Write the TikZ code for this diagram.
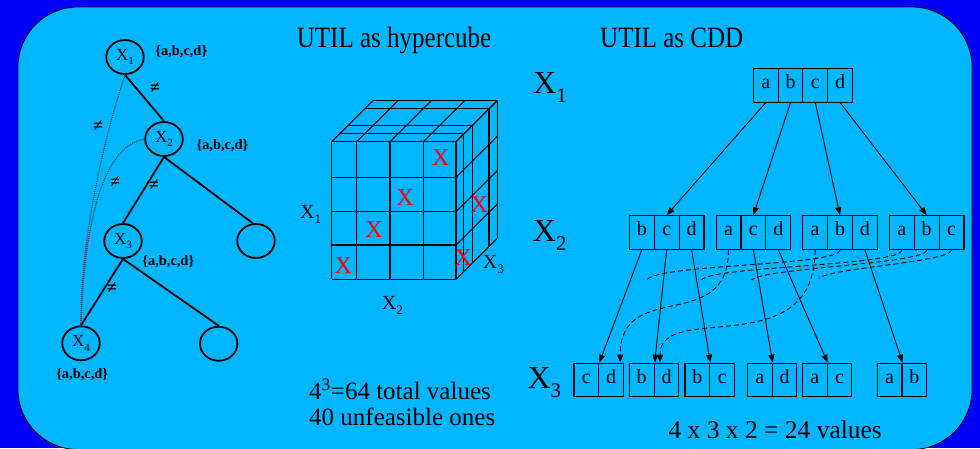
\documentclass[tikz,border=0pt]{standalone}
\usepackage{fontspec}
\setmainfont{Liberation Serif}
\usetikzlibrary{arrows.meta,shapes.geometric,calc}
\definecolor{bgdark}{RGB}{0,0,250}
\definecolor{bglight}{RGB}{0,183,255}
\newcommand\fsz[1]{\fontsize{#1}{#1}\selectfont}
\newcommand\Xsub[1]{X\raisebox{-0.28em}{\scalebox{0.65}{#1}}}
\begin{document}
\begin{tikzpicture}[x=1pt,y=-1pt,
  txt/.style={inner sep=0pt},
  tnode/.style={draw,line width=1.8pt, ellipse, minimum width=37.5pt, minimum height=34pt, inner sep=0pt, font=\fsz{17}},
  dom/.style={inner sep=0pt, font=\fsz{14.4}\bfseries},
  neq/.style={inner sep=0pt, font=\fsz{18}\bfseries},
  tedge/.style={line width=1.8pt},
  dotedge/.style={line width=1.2pt, dash pattern=on 1pt off 1pt, black!75},
  cube/.style={line width=1.1pt},
  redx/.style={inner sep=0pt, text=red, font=\fsz{24}},
  cell/.style={draw, line width=1.1pt, minimum width=24.8pt, minimum height=33.6pt, inner sep=0pt, text height=0.68em, text depth=0pt, font=\fsz{20}},
  arr/.style={line width=0.9pt, -{Triangle[length=8pt,width=6pt]}},
  darr/.style={arr, dash pattern=on 5pt off 3pt},
  dline/.style={line width=0.9pt, dash pattern=on 5pt off 3pt},
]
\useasboundingbox (0,0) rectangle (980,448);
\clip (0,0) rectangle (980,448);
\fill[bgdark] (0,0) rectangle (980,448);
\filldraw[fill=bglight, draw=black, line width=0.8pt, rounded corners=60pt] (18,449.5) -- (18,7) -- (972,7) -- (972,449.5) -- cycle;

% titles
\node[txt, anchor=base west, font=\fsz{25}] (title1) at (296.7,47) {\scalebox{1}[1.18]{UTIL as hypercube}};
\node[txt, anchor=base west, font=\fsz{25}] (title2) at (600,47) {\scalebox{1}[1.18]{UTIL as CDD}};

% ---------- constraint tree ----------
\node[tnode] (x1) at (125,57) {\Xsub{1}};
\node[tnode] (x2) at (164,139) {\Xsub{2}};
\node[tnode] (x3) at (123,241) {\Xsub{3}};
\node[tnode] (r1) at (256,241) {};
\node[tnode] (x4) at (81,343.3) {\Xsub{4}};
\node[tnode] (r2) at (218.7,343.7) {};

\node[dom] (d1) at (181.3,51.7) {\{a,b,c,d\}};
\node[dom] (d2) at (222.5,145.7) {\{a,b,c,d\}};
\node[dom] (d3) at (168.3,261.7) {\{a,b,c,d\}};
\node[dom] (d4) at (82.2,374.3) {\{a,b,c,d\}};

\draw[tedge] (x1.south) -- (x2.north);
\draw[tedge] (x2.south) -- (x3.north);
\draw[tedge] (x2.south) -- (r1.100);
\draw[tedge] (x3.south) -- (x4.north);
\draw[tedge] (x3.south) -- (r2.north);
\draw[dotedge] (x1.south) .. controls (100,150) and (80,250) .. (x4.north);
\draw[dotedge] (x2.west) .. controls (110,145) and (85,200) .. (x4.north);

\node[neq] (n1) at (155,88) {≠};
\node[neq] (n2) at (98,126) {≠};
\node[neq] (n3) at (154,185) {≠};
\node[neq] (n4) at (115,182) {≠};
\node[neq] (n5) at (112,288) {≠};

% ---------- hypercube ----------
\begin{scope}[cube]
\foreach \x in {331.7,356.7,390,423.3,456} {
  \draw (\x,141.7) -- (\x,279.3);
  \draw (\x,141.7) -- ++(41.3,-41);
}
\foreach \y in {141.7,177.3,211.7,245,279.3} {
  \draw (331.7,\y) -- (456,\y);
  \draw (456,\y) -- ++(41.3,-41);
}
\foreach \f in {0.19,0.39,0.80,1} {
  \draw ({331.7+41.3*\f},{141.7-41*\f}) -- ++(124.3,0) -- ++(0,137.6);
}
\end{scope}
\node[redx] (rx1) at (440.7,157.7) {X};
\node[redx] (rx2) at (405,197.7) {X};
\node[redx] (rx3) at (374,230) {X};
\node[redx] (rx4) at (343.3,265.7) {X};
\node[redx] (rx5) at (479.3,205) {X};
\node[redx] (rx6) at (463.3,257.7) {X};

\node[txt, anchor=base west, font=\fsz{20}] (cx1) at (300,218.3) {\Xsub{1}};
\node[txt, anchor=base west, font=\fsz{20}] (cx2) at (381.7,309.3) {\Xsub{2}};
\node[txt, anchor=base west, font=\fsz{20}] (cx3) at (482.7,268.3) {\Xsub{3}};

\node[txt, anchor=base west, font=\fsz{25}] (s1) at (309,399.5) {4\textsuperscript{3}=64 total values};
\node[txt, anchor=base west, font=\fsz{25}] (s2) at (309,425.7) {40 unfeasible ones};

% ---------- CDD ----------
\node[txt, anchor=base west, font=\fsz{32}] (lx1) at (533,93.3) {\Xsub{1}};
\node[txt, anchor=base west, font=\fsz{32}] (lx2) at (532.7,241.7) {\Xsub{2}};
\node[txt, anchor=base west, font=\fsz{32}] (lx3) at (527.3,388.3) {\Xsub{3}};

\node[cell] (t-1) at (765.7,85.3) {a};
\node[cell] (t-2) at (790.5,85.3) {b};
\node[cell] (t-3) at (815.3,85.3) {c};
\node[cell] (t-4) at (840.1,85.3) {d};

\node[cell] (m1-1) at (641.8,232.5) {b};
\node[cell] (m1-2) at (666.7,232.5) {c};
\node[cell] (m1-3) at (691.6,232.5) {d};
\node[cell] (m2-1) at (728.5,232.5) {a};
\node[cell] (m2-2) at (753.4,232.5) {c};
\node[cell] (m2-3) at (778.3,232.5) {d};
\node[cell] (m3-1) at (815.1,232.5) {a};
\node[cell] (m3-2) at (840,232.5) {b};
\node[cell] (m3-3) at (864.9,232.5) {d};
\node[cell] (m4-1) at (901.8,232.5) {a};
\node[cell] (m4-2) at (926.7,232.5) {b};
\node[cell] (m4-3) at (951.6,232.5) {c};

\node[cell] (b1-1) at (586.4,380) {c};
\node[cell] (b1-2) at (611.2,380) {d};
\node[cell] (b2-1) at (641.7,380) {b};
\node[cell] (b2-2) at (666.5,380) {d};
\node[cell] (b3-1) at (697.4,380) {b};
\node[cell] (b3-2) at (722.2,380) {c};
\node[cell] (b4-1) at (759.7,380) {a};
\node[cell] (b4-2) at (784.5,380) {d};
\node[cell] (b5-1) at (814.7,380) {a};
\node[cell] (b5-2) at (839.5,380) {c};
\node[cell] (b6-1) at (889.6,380) {a};
\node[cell] (b6-2) at (914.4,380) {b};

\draw[arr] (t-1.south) -- (m1-2.north);
\draw[arr] (t-2.south) -- (m2-2.north);
\draw[arr] (t-3.south) -- (m3-2.north);
\draw[arr] (t-4.south) -- (m4-2.north);

\draw[arr] (m1-1.south) -- (b1-1.north east);
\draw[arr] (m1-2.south) -- (b2-1.north east);
\draw[arr] (m1-3.south) -- (b3-1.north east);
\draw[arr] (m2-2.south) -- (b4-1.north east);
\draw[arr] (m2-3.south) -- (b5-1.north east);
\draw[arr] (m3-3.south) -- (b6-1.north east);

\draw[darr] (m2-1.south) .. controls (728.5,335) and (620,278) .. ([xshift=9pt]b1-2.north);
\draw[darr] (m3-1.south) .. controls (815.1,365) and (660,300) .. ([xshift=-6.5pt]b2-2.north);

\coordinate (e1) at (646.7,280);
\coordinate (e2) at (701.7,280);
\coordinate (e3) at (751.7,280);
\coordinate (e4) at (819.3,278.3);
\draw[dline] (m3-2.south) .. controls (840,266) and (656,264) .. (e1);
\draw[dline] (m4-1.south) .. controls (901.8,266) and (711,266) .. (e2);
\draw[dline] (m4-2.south) .. controls (926.7,264) and (761,268) .. (e3);
\draw[dline] (m4-3.south) .. controls (951.6,262) and (829,268) .. (e4);

\node[txt, anchor=base west, font=\fsz{25.5}] (s3) at (668.3,438.3) {4 x 3 x 2 = 24 values};
\end{tikzpicture}
\end{document}
